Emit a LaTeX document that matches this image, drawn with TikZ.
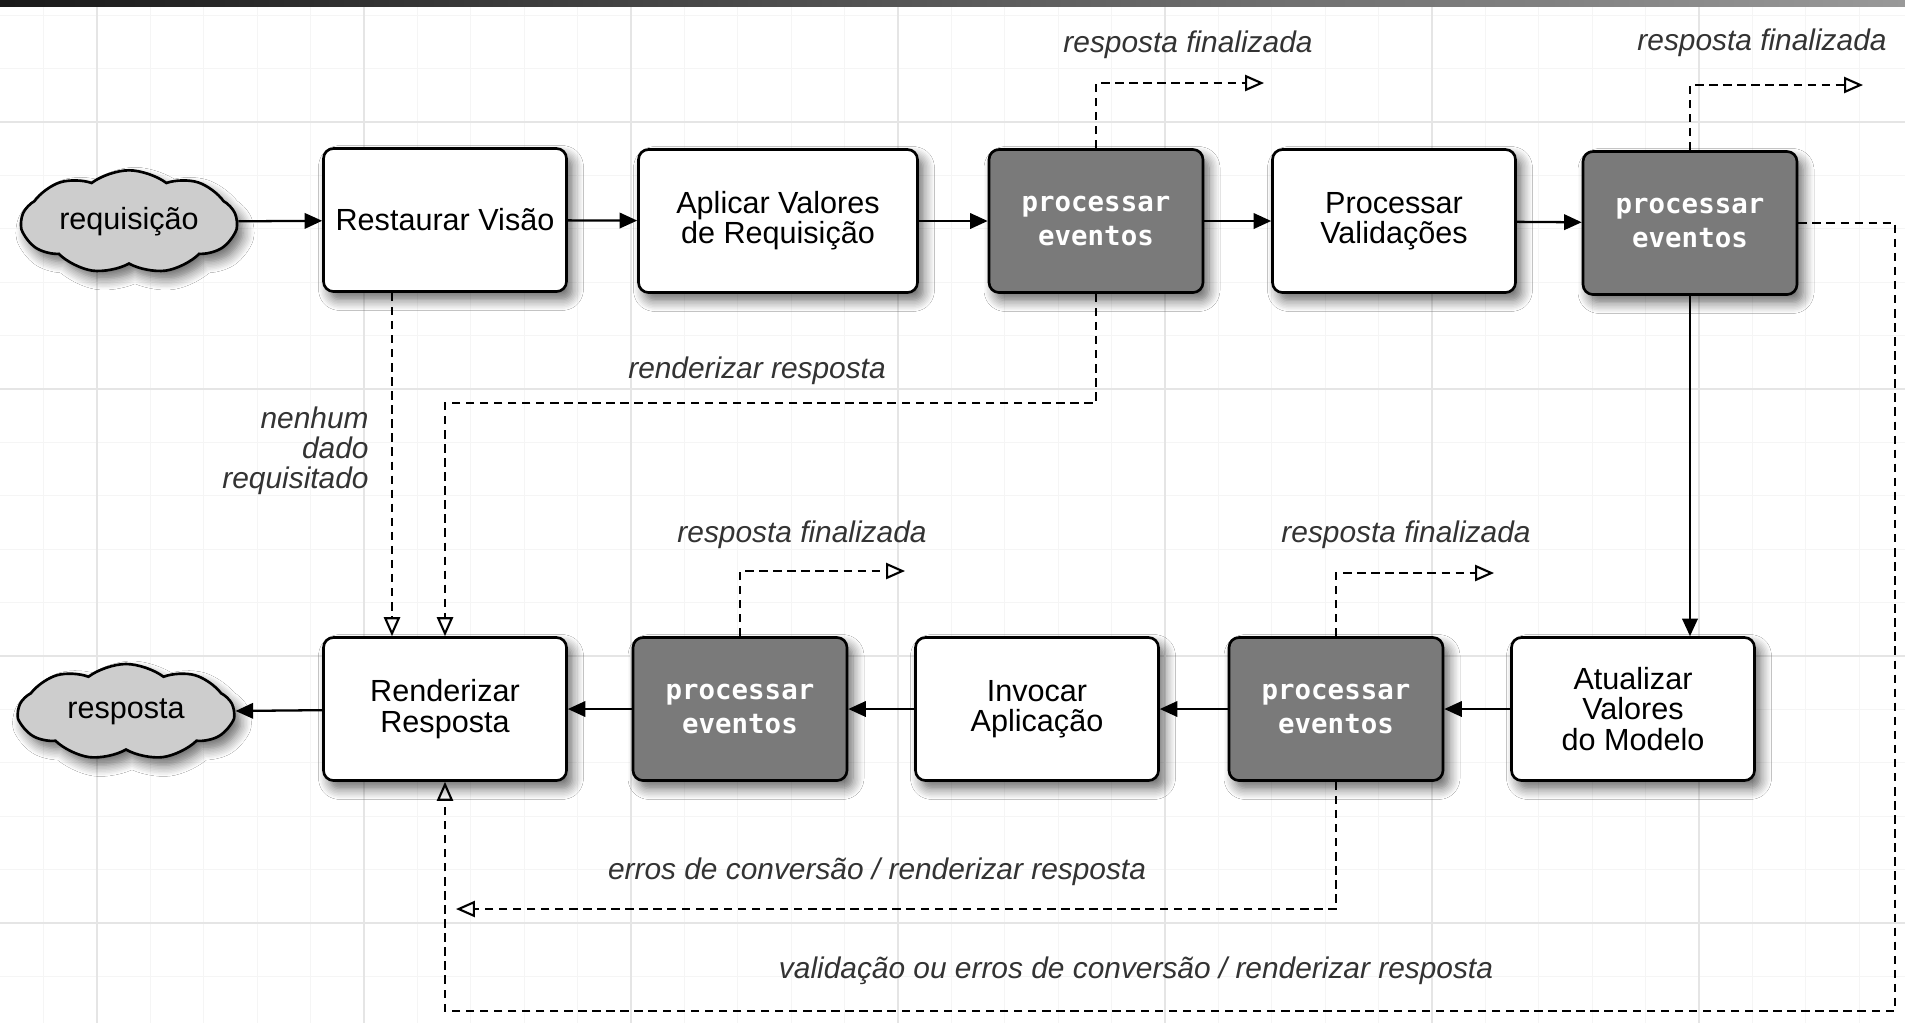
\documentclass[tikz,border=0pt]{standalone}
\usepackage{fontspec}
\setmainfont{Liberation Sans}
\newfontfamily\eventfont{DejaVu Sans Mono}
\usetikzlibrary{arrows.meta,shapes.symbols,shadows.blur,positioning}
\definecolor{evcinza}{HTML}{7A7A7A}
\definecolor{nuvcinza}{HTML}{CDCDCD}
\tikzset{fase/.style={
  draw,
  line width=0.75pt,
  rounded corners=1mm,
  fill=white,
  minimum width=24.3mm,
  minimum height=14.3mm,
  align=center,
  font=\fontsize{8.7}{8.6}\selectfont,
  blur shadow={shadow xshift=0.6mm, shadow yshift=-0.8mm, shadow blur radius=1.1mm, shadow blur steps=8, shadow opacity=60},
  },
  evento/.style={
  fase,
  fill=evcinza,
  minimum width=21.4mm,
  text=white,
  font=\eventfont\bfseries\fontsize{7.8}{9.7}\selectfont,
  },
  nuvem/.style={
  cloud,
  cloud puffs=9,
  cloud puff arc=75,
  aspect=2.3,
  draw,
  line width=0.75pt,
  fill=nuvcinza,
  minimum width=21.5mm,
  minimum height=9.6mm,
  inner sep=0pt,
  font=\fontsize{8.7}{8.6}\selectfont,
  blur shadow={shadow xshift=0.6mm, shadow yshift=-0.8mm, shadow blur radius=1.1mm, shadow blur steps=8, shadow opacity=60},
  },
  passo/.style={line width=0.65pt, -{Triangle[length=5pt,width=4.4pt]}},
  desvio/.style={line width=0.6pt, dash pattern=on 2.4pt off 1.6pt, -{Triangle[open,length=5.4pt,width=4.6pt]}},
  rotulo/.style={font=\itshape\fontsize{8.5}{8.6}\selectfont, text=black!80, align=right},
  }

\begin{document}
\begin{tikzpicture}[x=0.1mm, y=-0.1mm]
  \useasboundingbox (0,0) rectangle (1905,1023);
  \fill[white] (0,0) rectangle (1905,1023);
  \foreach \k in {0,...,35} \draw[gray!8, line width=0.3pt] ({43.6+53.4*\k},6) -- ({43.6+53.4*\k},1023);
  \foreach \k in {0,...,19} \draw[gray!8, line width=0.3pt] (0,{15.2+53.4*\k}) -- (1905,{15.2+53.4*\k});
  \foreach \k in {0,...,6} \draw[gray!20, line width=0.35pt] ({97+267*\k},6) -- ({97+267*\k},1023);
  \foreach \k in {0,...,3} \draw[gray!20, line width=0.35pt] (0,{122+267*\k}) -- (1905,{122+267*\k});
  \shade[left color=black!90, right color=black!40] (0,0) rectangle (1905,6);

  \node [nuvem] (req) at (129,222) {requisição};
  \node [fase] (restaurar) at (445,220) {Restaurar Visão};
  \node [fase, minimum width=27.9mm] (aplicar) at (778,221) {Aplicar Valores\\de Requisição};
  \node [evento] (pe1) at (1096,221) {processar\\eventos};
  \node [fase] (validar) at (1394,221) {Processar\\Validações};
  \node [evento] (pe2) at (1690,223) {processar\\eventos};

  \node [nuvem] (resp) at (126,712) {resposta};
  \node [fase] (render) at (445,709) {Renderizar\\Resposta};
  \node [evento] (pe3) at (740,709) {processar\\eventos};
  \node [fase] (invocar) at (1037,709) {Invocar\\Aplicação};
  \node [evento] (pe4) at (1336,709) {processar\\eventos};
  \node [fase] (atualizar) at (1633,709) {Atualizar\\Valores\\do Modelo};

  \draw [passo] (req) -- (restaurar);
  \draw [passo] (restaurar) -- (aplicar);
  \draw [passo] (aplicar) -- (pe1);
  \draw [passo] (pe1) -- (validar);
  \draw [passo] (validar) -- (pe2);
  \draw [passo] (pe2.south) -- (pe2.south |- atualizar.north);
  \draw [passo] (atualizar) -- (pe4);
  \draw [passo] (pe4) -- (invocar);
  \draw [passo] (invocar) -- (pe3);
  \draw [passo] (pe3) -- (render);
  \draw [passo] (render) -- (resp);

  \coordinate (fim1) at (1264,83);
  \coordinate (fim2) at (1863,85);
  \coordinate (fim3) at (905,571);
  \coordinate (fim4) at (1494,573);
  \draw [desvio] (pe1.north) |- (fim1);
  \draw [desvio] (pe2.north) |- (fim2);
  \draw [desvio] (pe3.north) |- (fim3);
  \draw [desvio] (pe4.north) |- (fim4);
  \node [rotulo] (lfim1) at (1188,45) {resposta finalizada};
  \node [rotulo] (lfim2) at (1762,43) {resposta finalizada};
  \node [rotulo] (lfim3) at (802,535) {resposta finalizada};
  \node [rotulo] (lfim4) at (1406,535) {resposta finalizada};

  \draw [desvio] ([xshift=-5.3mm]restaurar.south) -- ([xshift=-5.3mm]render.north);
  \node [rotulo, anchor=east] (lnenhum) at (381,451) {nenhum\\dado\\requisitado};

  \coordinate (canto1) at (445,403);
  \draw [desvio] (pe1.south) |- (canto1) -- (render.north);
  \node [rotulo] (lrender) at (757,371) {renderizar resposta};

  \coordinate (canto2) at (456,909);
  \draw [desvio] (pe4.south) |- (canto2);
  \node [rotulo] (lerros) at (877,872) {erros de conversão / renderizar resposta};

  \coordinate (canto3) at (1895,1011);
  \draw [desvio] (pe2.east) -| (canto3) -| (render.south);
  \node [rotulo] (lvalida) at (1136,971) {validação ou erros de conversão / renderizar resposta};
\end{tikzpicture}
\end{document}
